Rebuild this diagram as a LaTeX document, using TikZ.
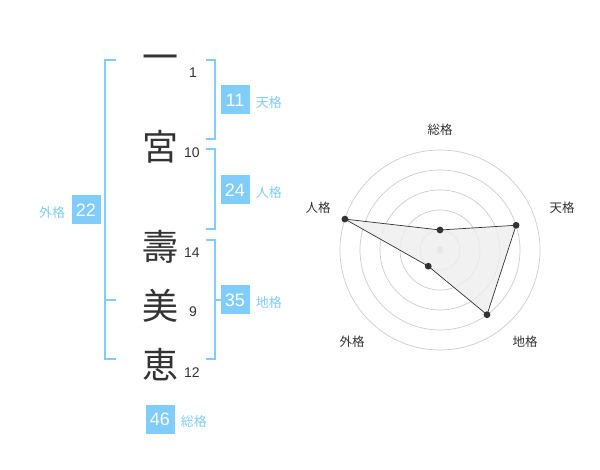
\documentclass[tikz,border=0pt]{standalone}
\usepackage{fontspec}
\setmainfont{Liberation Sans}
\newfontfamily\jp{Noto Sans CJK JP}
\usepackage{xcolor}
\usetikzlibrary{positioning}

\definecolor{kakublue}{HTML}{80CCFA}
\definecolor{inkgray}{HTML}{333333}
\definecolor{ringgray}{HTML}{CCCCCC}
\definecolor{polyfill}{HTML}{EEEEEE}

\begin{document}
\begin{tikzpicture}[x=1pt, y=-1pt,
    kanji/.style={font=\jp\fontsize{36}{36}\selectfont, text=inkgray, inner sep=0pt},
    strokes/.style={font=\fontsize{14}{14}\selectfont, text=inkgray, inner sep=0pt},
    score/.style={fill=kakublue, text=white, font=\fontsize{18}{18}\selectfont,
        minimum width=29pt, minimum height=29pt, inner sep=0pt},
    kaku/.style={text=kakublue, font=\jp\fontsize{13}{13}\selectfont, inner sep=0pt},
    bracket/.style={draw=kakublue, line width=2pt},
    axislabel/.style={text=inkgray, font=\jp\fontsize{12.5}{12.5}\selectfont, inner sep=0pt}]
\useasboundingbox (0,0) rectangle (600,470);

% name
\node (K1) [kanji] at (160,63) {一};
\node (K2) [kanji] at (160,147) {宮};
\node (K3) [kanji] at (160,247) {壽};
\node (K4) [kanji] at (160,306) {美};
\node (K5) [kanji] at (160,365) {恵};

\node (N1) [strokes] at (193,73) {1};
\node (N2) [strokes] at (192,153) {10};
\node (N3) [strokes] at (192,253) {14};
\node (N4) [strokes] at (193,312) {9};
\node (N5) [strokes] at (192,373) {12};

% brackets
\draw[bracket] (116,60) -- (105,60) -- (105,359) -- (116,359);
\draw[bracket] (105,300) -- (116,300);
\draw[bracket] (206,60) -- (215,60) -- (215,139) -- (206,139);
\draw[bracket] (206,149) -- (215,149) -- (215,229) -- (206,229);
\draw[bracket] (206,240) -- (215,240) -- (215,359) -- (206,359);
\draw[bracket] (215,300) -- (223,300);

% scores
\node (S1) [score] at (235,100) {11};
\node (S2) [score] at (235,190) {24};
\node (S3) [score] at (235,300) {35};
\node (S4) [score] at (86,210) {22};
\node (S5) [score] at (160,419) {46};

\node (T1) [kaku, right=6pt of S1, yshift=-3pt] {天格};
\node (T2) [kaku, right=6pt of S2, yshift=-3pt] {人格};
\node (T3) [kaku, right=6pt of S3, yshift=-3pt] {地格};
\node (T4) [kaku, left=6pt of S4, yshift=-3pt] {外格};
\node (T5) [kaku, right=6pt of S5, yshift=-3pt] {総格};

% radar
\begin{scope}[shift={(440,250)}, yscale=-1]
\foreach \r in {20,40,60,80,100}
    \draw[ringgray, line width=0.7pt] (0,0) circle[radius=\r];
\fill[ringgray] (0,0) circle[radius=3.5];

\coordinate (P1) at (90:20);
\coordinate (P2) at (18:80);
\coordinate (P3) at (-54:80);
\coordinate (P4) at (-126:20);
\coordinate (P5) at (162:100);

\filldraw[fill=polyfill, fill opacity=0.8, draw=inkgray, line width=0.7pt]
    (P1) -- (P2) -- (P3) -- (P4) -- (P5) -- cycle;
\foreach \p in {P1,P2,P3,P4,P5}
    \fill[inkgray] (\p) circle[radius=3.4];

\node (A1) [axislabel] at (0,120) {総格};
\node (A2) [axislabel] at (122,42) {天格};
\node (A3) [axislabel] at (85,-92) {地格};
\node (A4) [axislabel] at (-88,-92) {外格};
\node (A5) [axislabel] at (-122,42) {人格};
\end{scope}
\end{tikzpicture}
\end{document}
